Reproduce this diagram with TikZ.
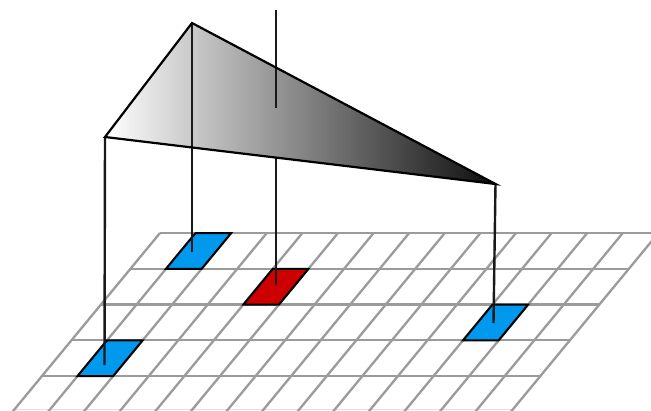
\documentclass[tikz,border=0pt]{standalone}
\definecolor{gridgray}{RGB}{155,155,155}
\definecolor{edgegray}{RGB}{225,225,225}
\definecolor{cellblue}{RGB}{0,153,238}
\definecolor{cellred}{RGB}{204,0,0}
\tikzset{
  gridline/.style={draw=gridgray,line width=2.3pt},
  edgeline/.style={draw=edgegray,line width=1.2pt},
  cell/.style={draw=black,line width=2pt,line join=miter},
  rod/.style={draw=black!90,line width=2.4pt},
  plate/.style={draw=black,line width=2.2pt,line join=miter}
}
\newcommand{\gx}[2]{{160+35.6*(#1)-29.5*(#2)}}
\newcommand{\gy}[1]{{233+35.75*(#1)}}
\begin{document}
\begin{tikzpicture}[x=1pt,y=-1pt]
\useasboundingbox (0,0) rectangle (651,410);
\fill[white] (0,0) rectangle (651,410);
\clip (0,0) rectangle (651,410);
% grid
\draw[edgeline] (13,409.4) -- (512,409.4);
\foreach \r in {0,...,4}
  \draw[gridline] (\gx{0}{\r},\gy{\r}) -- (\gx{14}{\r},\gy{\r});
\foreach \c in {0,...,14}
  \draw[gridline] (\gx{\c}{0},\gy{0}) -- (\gx{\c}{5},\gy{5});
% cells
\draw[cell,fill=cellblue] (\gx{1}{0},\gy{0}) -- (\gx{2}{0},\gy{0}) -- (\gx{2}{1},\gy{1}) -- (\gx{1}{1},\gy{1}) -- cycle;
\draw[cell,fill=cellred] (\gx{4}{1},\gy{1}) -- (\gx{5}{1},\gy{1}) -- (\gx{5}{2},\gy{2}) -- (\gx{4}{2},\gy{2}) -- cycle;
\draw[cell,fill=cellblue] (\gx{1}{3},\gy{3}) -- (\gx{2}{3},\gy{3}) -- (\gx{2}{4},\gy{4}) -- (\gx{1}{4},\gy{4}) -- cycle;
\draw[cell,fill=cellblue] (\gx{11}{2},\gy{2}) -- (\gx{12}{2},\gy{2}) -- (\gx{12}{3},\gy{3}) -- (\gx{11}{3},\gy{3}) -- cycle;
% plate corners and rod ends
\coordinate (apex) at (192,23);
\coordinate (left) at (105,137);
\coordinate (right) at (495.5,184);
\coordinate (ctop) at (276,10);
\coordinate (cmid) at (276,108);
\coordinate (cedge) at (276,158);
\coordinate (cend) at (276,285);
\coordinate (aend) at (192,252);
\coordinate (lend) at (104.5,365);
\coordinate (rend) at (493.5,323);
% plate
\shade[left color=white,right color=black!95] (apex) -- (left) -- (right) -- cycle;
\draw[rod] (ctop) -- (cmid);
\draw[rod] (cedge) -- (cend);
\draw[rod] (apex) -- (aend);
\draw[rod] (left) -- (lend);
\draw[rod] (right) -- (rend);
\draw[plate] (apex) -- (left) -- (right) -- cycle;
\end{tikzpicture}
\end{document}
